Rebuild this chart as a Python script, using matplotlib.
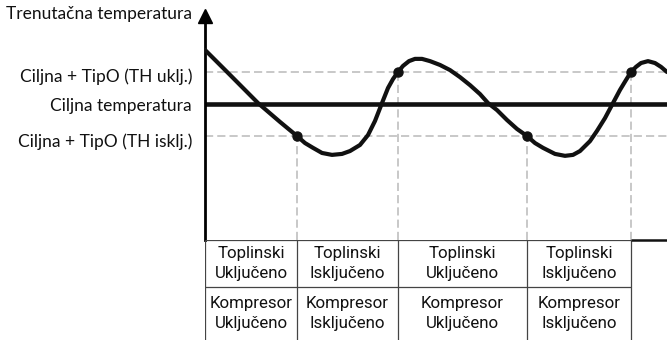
import matplotlib
matplotlib.use('Agg')
import matplotlib.pyplot as plt
import matplotlib.transforms as mtransforms

# temperature levels (deg C)
target_temp = 22.0
th_on_temp = 23.0
th_off_temp = 21.0

# measured room temperature over time (min)
time_pts = [0, 2.5, 5.3, 7.5, 9.2, 10.0, 10.8, 11.7, 12.7, 13.7, 14.5, 15.5, 16.3, 17.0,
            17.7, 18.3, 18.8, 19.3, 19.8, 20.4, 21.0, 21.7, 22.5, 23.5, 24.5, 25.5, 26.5,
            27.5, 28.3, 29.2, 30.2, 31.2, 32.2, 33.0, 33.8, 35.0, 36.0, 36.8, 37.5, 38.5,
            39.2, 40.0, 40.8, 41.5, 42.1, 42.6, 43.1, 43.6, 44.3, 45.0, 45.6, 46.2]
temp_pts = [23.69, 22.91, 22.03, 21.44, 21.0, 20.78, 20.63, 20.47, 20.41, 20.44, 20.53,
            20.72, 21.03, 21.47, 22.03, 22.5, 22.78, 23.0, 23.19, 23.34, 23.41, 23.41,
            23.34, 23.22, 23.06, 22.84, 22.59, 22.31, 22.03, 21.81, 21.5, 21.22, 21.0,
            20.78, 20.63, 20.44, 20.38, 20.41, 20.53, 20.84, 21.16, 21.56, 22.03, 22.44,
            22.75, 23.0, 23.16, 23.28, 23.34, 23.28, 23.16, 23.0]

# moments where the thermostat switches
switch_times = [9.2, 19.3, 32.2, 42.6]
switch_temps = [21.0, 23.0, 21.0, 23.0]

y_title = 'Trenutačna temperatura'
level_temps = [th_on_temp, target_temp, th_off_temp]
level_labels = ['Ciljna + TipO (TH uklj.)', 'Ciljna temperatura', 'Ciljna + TipO (TH isklj.)']

heat_states = ['Toplinski\nUključeno', 'Toplinski\nIsključeno',
               'Toplinski\nUključeno', 'Toplinski\nIsključeno']
comp_states = ['Kompresor\nUključeno', 'Kompresor\nIsključeno',
               'Kompresor\nUključeno', 'Kompresor\nIsključeno']

W, H = 667, 340
fig = plt.figure(figsize=(W / 100, H / 100), dpi=100)

ax = fig.add_axes([205 / W, (H - 240) / H, 462 / W, 224 / H])
ax.set_xlim(0, 46.2)
ax.set_ylim(17.75, 24.75)
for s in ['top', 'right', 'bottom']:
    ax.spines[s].set_visible(False)
ax.spines['left'].set_linewidth(2)
ax.spines['left'].set_color('black')
ax.set_xticks([])
ax.set_yticks([])
ax.patch.set_alpha(0)

# arrow head on the y axis
ax.plot([0], [1], marker='^', color='black', markersize=10.5,
        transform=ax.transAxes, clip_on=False)

grey = '#c8c8c8'
for lvl in [th_on_temp, th_off_temp]:
    ax.axhline(lvl, color=grey, lw=1.4, linestyle=(0, (4.2, 2.1)), zorder=1)
ax.vlines(switch_times, 17.75, switch_temps, color=grey, lw=1.4,
          linestyle=(0, (4.2, 2.1)), zorder=1)

ax.axhline(target_temp, color='#111111', lw=3.3, zorder=2)
ax.plot(time_pts, temp_pts, color='#111111', lw=3.0, solid_joinstyle='round',
        solid_capstyle='round', zorder=3)
ax.plot(switch_times, switch_temps, 'o', color='#111111', markersize=6.5, zorder=4)

# labels left of the axis, nudged a little below their lines
lab_font = dict(family=['Lato', 'DejaVu Sans'], fontsize=12.5, color='#111111')
for t, lbl, dy in zip(level_temps, level_labels, [-5, -2, -6]):
    tr = mtransforms.offset_copy(ax.get_yaxis_transform(), fig=fig, x=-13, y=dy, units='dots')
    ax.text(0, t, lbl, transform=tr, ha='right', va='center', **lab_font)
title_tr = mtransforms.offset_copy(ax.get_yaxis_transform(), fig=fig, x=-13, units='dots')
ax.text(0, 24.81, y_title, transform=title_tr, ha='right', va='center', clip_on=False, **lab_font)

# state table under the chart
tab = fig.add_axes([205 / W, 0, 462 / W, 100 / H])
tab.set_xlim(0, 46.2)
tab.set_ylim(2 - 100 / 47, 2)
tab.axis('off')
edges = [0] + switch_times
line_c = '#444444'
tab.vlines(edges, 2 - 100 / 47, 2, color=line_c, lw=0.9)
tab.hlines([2, 1], 0, switch_times[-1], color=line_c, lw=0.9)
tab.hlines(2, switch_times[-1], 46.2, color='#111111', lw=1.8, clip_on=False)

cell_font = dict(family=['Roboto', 'Liberation Sans'], fontsize=12.2,
                 color='#111111', ha='center', va='center', linespacing=1.42)
for i in range(len(heat_states)):
    xc = (edges[i] + edges[i + 1]) / 2
    tab.text(xc, 1.49, heat_states[i], **cell_font)
    tab.text(xc, 0.44, comp_states[i], **cell_font)

fig.savefig('out.png', dpi=100)
